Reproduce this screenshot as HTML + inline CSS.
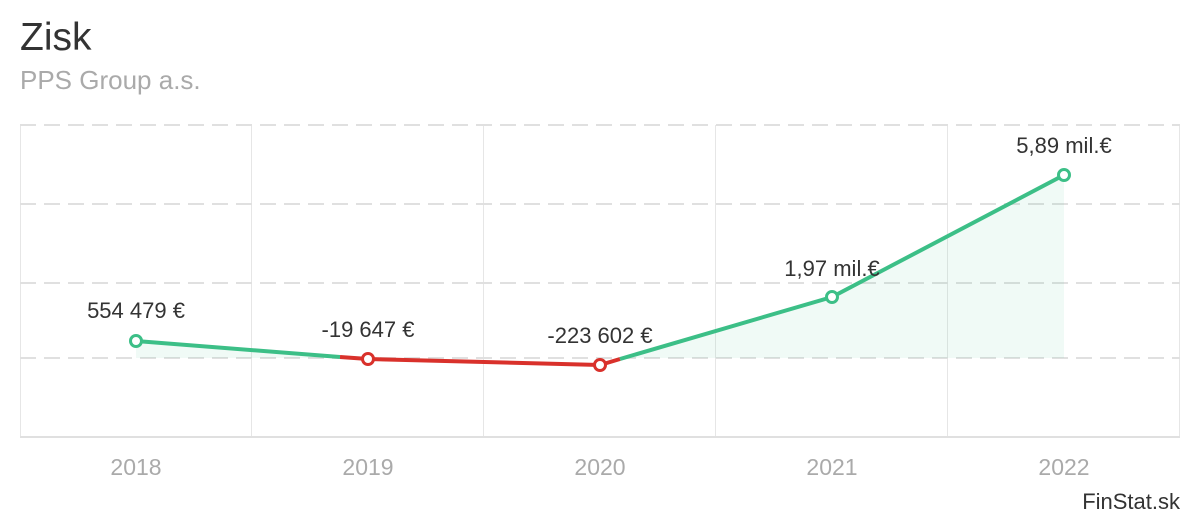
<!DOCTYPE html>
<html><head><meta charset="utf-8"><style>
body{margin:0;width:1200px;height:520px;background:#fff;overflow:hidden;font-family:"Liberation Sans",sans-serif}
</style></head><body>
<svg width="1200" height="520" xmlns="http://www.w3.org/2000/svg" font-family="Liberation Sans, sans-serif">
<text x="20" y="50" font-size="39" fill="#333">Zisk</text>
<text x="20" y="89" font-size="26" fill="#aaa">PPS Group a.s.</text>
<g stroke="#e6e6e6" stroke-width="1">
<line x1="20.5" y1="125" x2="20.5" y2="437"/>
<line x1="251.5" y1="125" x2="251.5" y2="437"/>
<line x1="483.5" y1="125" x2="483.5" y2="437"/>
<line x1="715.5" y1="125" x2="715.5" y2="437"/>
<line x1="947.5" y1="125" x2="947.5" y2="437"/>
<line x1="1179.5" y1="125" x2="1179.5" y2="437"/>
</g>
<g stroke="#e0e0e0" stroke-width="2" stroke-dasharray="16,8">
<line x1="20" y1="125" x2="1180" y2="125"/>
<line x1="20" y1="204" x2="1180" y2="204"/>
<line x1="20" y1="283" x2="1180" y2="283"/>
<line x1="20" y1="358" x2="1180" y2="358"/>
</g>
<line x1="20" y1="437" x2="1180" y2="437" stroke="#e0e0e0" stroke-width="2"/>
<polygon points="136,341 350,358 624,358 832,297 1064,175 1064,358 136,358" fill="#3cbf87" fill-opacity="0.08"/>
<polyline points="136,341 340,357" fill="none" stroke="#3cbf87" stroke-width="4"/>
<polyline points="340,357 368,359 600,365 620,359" fill="none" stroke="#d9312b" stroke-width="4"/>
<polyline points="620,359 832,297 1064,175" fill="none" stroke="#3cbf87" stroke-width="4"/>
<g fill="#fff" stroke-width="3">
<circle cx="136" cy="341" r="5.5" stroke="#3cbf87"/>
<circle cx="368" cy="359" r="5.5" stroke="#d9312b"/>
<circle cx="600" cy="365" r="5.5" stroke="#d9312b"/>
<circle cx="832" cy="297" r="5.5" stroke="#3cbf87"/>
<circle cx="1064" cy="175" r="5.5" stroke="#3cbf87"/>
</g>
<g font-size="22" fill="#333" text-anchor="middle">
<text x="136" y="318">554 479 €</text>
<text x="368" y="337">-19 647 €</text>
<text x="600" y="343">-223 602 €</text>
<text x="832" y="276">1,97 mil.€</text>
<text x="1064" y="153">5,89 mil.€</text>
</g>
<g font-size="23" fill="#aaa" text-anchor="middle">
<text x="136" y="475">2018</text>
<text x="368" y="475">2019</text>
<text x="600" y="475">2020</text>
<text x="832" y="475">2021</text>
<text x="1064" y="475">2022</text>
</g>
<text x="1180" y="509" font-size="22" fill="#333" text-anchor="end">FinStat.sk</text>
</svg>
</body></html>
